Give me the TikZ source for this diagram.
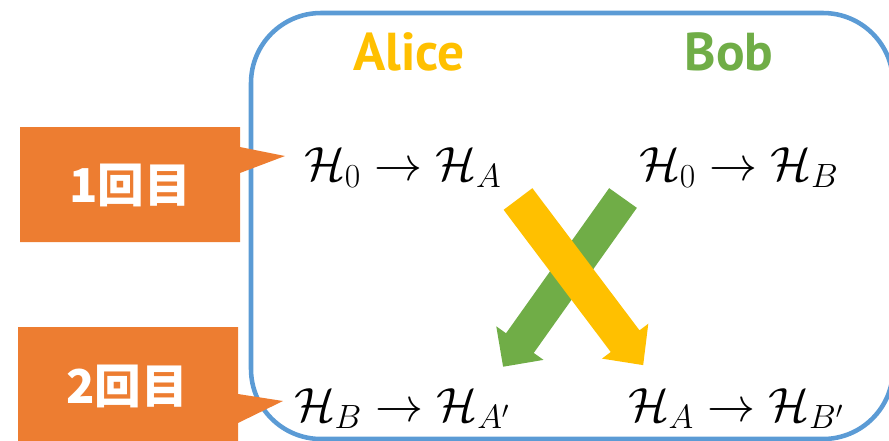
\RequirePackage{fix-cm}
\documentclass[tikz,border=0pt]{standalone}
\usepackage{fontspec}
\newfontfamily\ptsans{PT Sans}
\newfontfamily\jpfont{Noto Sans CJK JP}
\definecolor{offorange}{HTML}{ED7D31}
\definecolor{offblue}{HTML}{5B9BD5}
\definecolor{offyellow}{HTML}{FFC000}
\definecolor{offgreen}{HTML}{70AD47}
\begin{document}
\begin{tikzpicture}[x=0.75pt,y=-0.75pt,
  blueframe/.style={draw=offblue,line width=3.4pt,rounded corners=52.5pt},
  calloutshape/.style={fill=offorange},
  calltext/.style={font=\jpfont\bfseries\fontsize{35}{40}\selectfont,text=white,inner sep=0pt},
  persontxt/.style={font=\ptsans\bfseries\fontsize{40}{46}\selectfont,inner sep=0pt,anchor=base},
  formula/.style={font=\fontsize{36}{42}\selectfont,inner sep=0pt,anchor=base}]
\useasboundingbox (0,0) rectangle (889,440);
\clip (0,0) rectangle (889,440);
% frame
\draw[blueframe] (251,13) rectangle (893,439);
% names
\node[persontxt,text=offyellow] (alice) at (409,70) {Alice};
\node[persontxt,text=offgreen] (bob) at (729,70) {Bob};
% formulas
\node[formula] (f1) at (403,180) {$\mathcal{H}_0 \to \mathcal{H}_A$};
\node[formula] (f2) at (739,180) {$\mathcal{H}_0 \to \mathcal{H}_B$};
\node[formula] (f3) at (402,421) {$\mathcal{H}_B \to \mathcal{H}_{A'}$};
\node[formula] (f4) at (736,421) {$\mathcal{H}_A \to \mathcal{H}_{B'}$};
% green block arrow (Bob -> Alice)
\begin{scope}[shift={(623,198)},rotate=-125.4]
  \fill[offgreen] (0,17) -- (178,17) -- (178,29) -- (207,0) -- (178,-29) -- (178,-17) -- (0,-17) -- cycle;
\end{scope}
% yellow block arrow (Alice -> Bob)
\begin{scope}[shift={(518,199)},rotate=-53.0]
  \fill[offyellow] (0,18) -- (178,18) -- (178,29) -- (208,0) -- (178,-29) -- (178,-18) -- (0,-18) -- cycle;
\end{scope}
% callouts
\fill[calloutshape] (20,127) -- (240,127) -- (240,147) -- (285,156) -- (240,173) -- (240,242) -- (20,242) -- cycle;
\node[calltext] (c1) at (130,185) {1回目};
\fill[calloutshape] (18,327) -- (238,327) -- (238,394) -- (283,401) -- (238,423) -- (238,445) -- (18,445) -- cycle;
\node[calltext] (c2) at (127,386) {2回目};
\end{tikzpicture}
\end{document}
